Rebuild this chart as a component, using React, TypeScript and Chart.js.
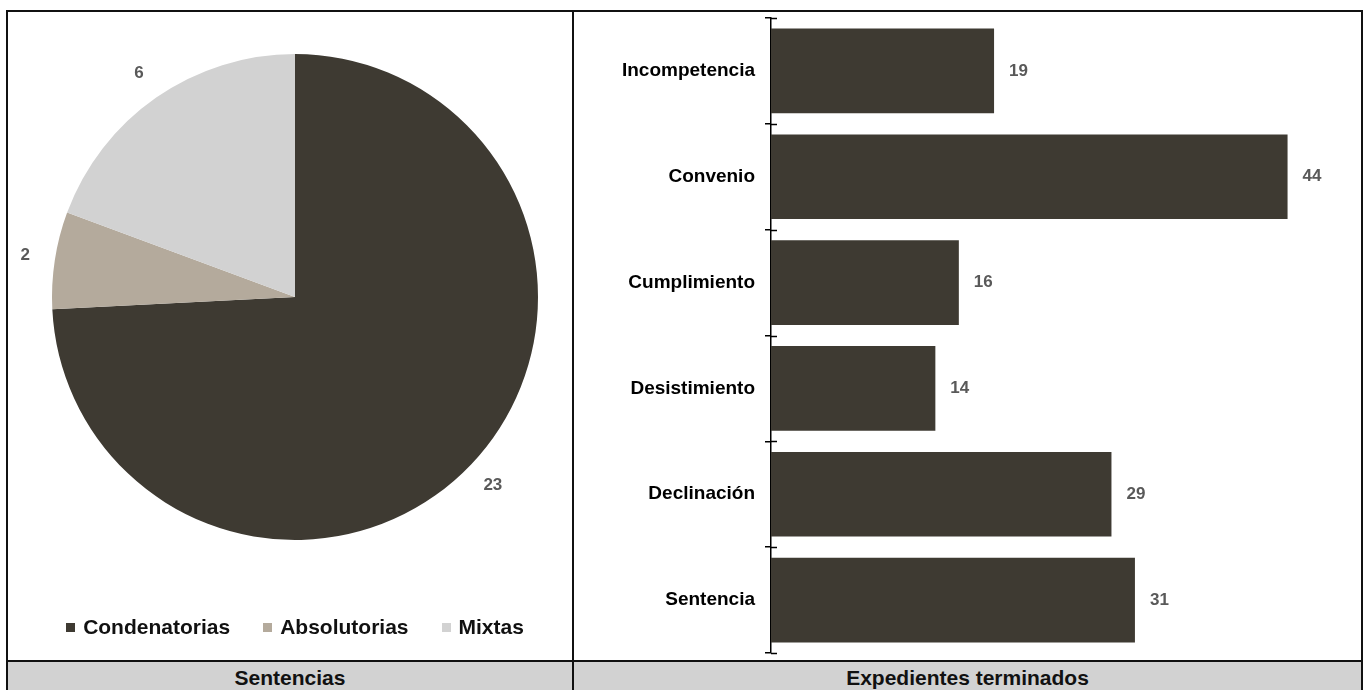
import React, { useEffect, useRef } from "react";
import { Chart, registerables } from "chart.js";

Chart.register(...registerables);

const pieLabels = ["Condenatorias", "Absolutorias", "Mixtas"];
const pieValues = [23, 2, 6];
const pieColors = ["#3e3a32", "#b4aa9c", "#d2d2d2"];

const barLabels = ["Incompetencia", "Convenio", "Cumplimiento", "Desistimiento", "Declinación", "Sentencia"];
const barValues = [19, 44, 16, 14, 29, 31];
const barColor = "#3e3a32";
const barMax = 50;

const panelTitles = ["Sentencias", "Expedientes terminados"];

const FONT = "'Liberation Sans', Arial, sans-serif";

const pieLabelPlugin = {
  id: "pieLabels",
  afterDatasetsDraw(chart: any) {
    const ctx = chart.ctx;
    const meta = chart.getDatasetMeta(0);
    ctx.save();
    ctx.font = `bold 17px ${FONT}`;
    ctx.fillStyle = "#595959";
    ctx.textAlign = "center";
    ctx.textBaseline = "middle";
    meta.data.forEach((arc: any, i: number) => {
      const { x, y, startAngle, endAngle, outerRadius } = arc.getProps(["x", "y", "startAngle", "endAngle", "outerRadius"], true);
      const mid = (startAngle + endAngle) / 2;
      const r = outerRadius + 30;
      ctx.fillText(String(pieValues[i]), x + Math.cos(mid) * r, y + Math.sin(mid) * r);
    });
    ctx.restore();
  },
};

const barExtrasPlugin = {
  id: "barExtras",
  afterDatasetsDraw(chart: any) {
    const ctx = chart.ctx;
    const meta = chart.getDatasetMeta(0);
    ctx.save();
    ctx.font = `bold 17px ${FONT}`;
    ctx.fillStyle = "#595959";
    ctx.textAlign = "left";
    ctx.textBaseline = "middle";
    meta.data.forEach((bar: any, i: number) => {
      ctx.fillText(String(barValues[i]), bar.x + 15, bar.y);
    });
    // right half of crossing tick marks
    const axisX = chart.chartArea.left;
    const n = barLabels.length;
    const top = chart.chartArea.top;
    const band = (chart.chartArea.bottom - top) / n;
    ctx.strokeStyle = "#000";
    ctx.lineWidth = 1.5;
    for (let i = 0; i <= n; i++) {
      const yy = Math.round(top + band * i) + 0.5;
      ctx.beginPath();
      ctx.moveTo(axisX, yy);
      ctx.lineTo(axisX + 6, yy);
      ctx.stroke();
    }
    ctx.restore();
  },
};

function PieChart() {
  const ref = useRef<HTMLCanvasElement>(null);
  useEffect(() => {
    if (!ref.current) return;
    const chart = new Chart(ref.current, {
      type: "pie",
      data: {
        labels: pieLabels,
        datasets: [{ data: pieValues, backgroundColor: pieColors, borderWidth: 0 }],
      },
      options: {
        animation: false,
        responsive: false,
        layout: { padding: { left: 44, right: 34, top: 42, bottom: 120 } },
        plugins: { legend: { display: false }, tooltip: { enabled: false } },
      },
      plugins: [pieLabelPlugin],
    });
    return () => chart.destroy();
  }, []);
  return <canvas ref={ref} width={564} height={648} style={{ position: "absolute", left: 8, top: 12 }} />;
}

function BarChart() {
  const ref = useRef<HTMLCanvasElement>(null);
  useEffect(() => {
    if (!ref.current) return;
    const chart = new Chart(ref.current, {
      type: "bar",
      data: {
        labels: barLabels,
        datasets: [{ data: barValues, backgroundColor: barColor, barPercentage: 0.8, categoryPercentage: 1 }],
      },
      options: {
        animation: false,
        responsive: false,
        indexAxis: "y",
        layout: { padding: { left: 0, right: 3, top: 6, bottom: 6 } },
        plugins: { legend: { display: false }, tooltip: { enabled: false } },
        scales: {
          x: { display: false, min: 0, max: barMax },
          y: {
            afterFit: (scale: any) => {
              scale.width = 196;
              scale.paddingTop = 0;
              scale.paddingBottom = 0;
            },
            grid: {
              offset: true,
              drawOnChartArea: false,
              drawTicks: true,
              tickLength: 6,
              color: "#000",
              lineWidth: 1.5,
            },
            border: { display: true, color: "#000", width: 1.5 },
            ticks: {
              padding: 10,
              color: "#000",
              font: { family: FONT, size: 19, weight: "bold" },
            },
          },
        },
      },
      plugins: [barExtrasPlugin],
    });
    return () => chart.destroy();
  }, []);
  return <canvas ref={ref} width={786} height={647} style={{ position: "absolute", left: 575, top: 12 }} />;
}

export default function App() {
  return (
    <div style={{ position: "fixed", left: 0, top: 0, width: 1365, height: 690, overflow: "hidden", background: "#fff", fontFamily: FONT }}>
      {/* bottom gray row */}
      <div style={{ position: "absolute", left: 8, top: 662, width: 1353, height: 40, background: "#d2d2d2" }} />
      {/* outer border */}
      <div style={{ position: "absolute", left: 6, top: 10, width: 1357, height: 700, border: "2px solid #111", boxSizing: "border-box" }} />
      {/* vertical divider */}
      <div style={{ position: "absolute", left: 572, top: 10, width: 2, height: 700, background: "#111" }} />
      {/* horizontal divider */}
      <div style={{ position: "absolute", left: 6, top: 660, width: 1357, height: 2, background: "#111" }} />

      <PieChart />
      <BarChart />

      {/* pie legend */}
      <div style={{ position: "absolute", left: 8, top: 614, width: 574, height: 26, display: "flex", justifyContent: "center", alignItems: "center", gap: 33 }}>
        {pieLabels.map((l, i) => (
          <div key={l} style={{ display: "flex", alignItems: "center" }}>
            <span style={{ display: "inline-block", width: 9, height: 9, background: pieColors[i], marginRight: 8 }} />
            <span style={{ fontSize: 21, fontWeight: "bold", color: "#111" }}>{l}</span>
          </div>
        ))}
      </div>

      {/* bottom titles */}
      <div style={{ position: "absolute", left: 8, top: 664, width: 564, height: 28, display: "flex", justifyContent: "center", alignItems: "center", fontSize: 21, fontWeight: "bold", color: "#111" }}>
        {panelTitles[0]}
      </div>
      <div style={{ position: "absolute", left: 574, top: 664, width: 787, height: 28, display: "flex", justifyContent: "center", alignItems: "center", fontSize: 21, fontWeight: "bold", color: "#111" }}>
        {panelTitles[1]}
      </div>
    </div>
  );
}
